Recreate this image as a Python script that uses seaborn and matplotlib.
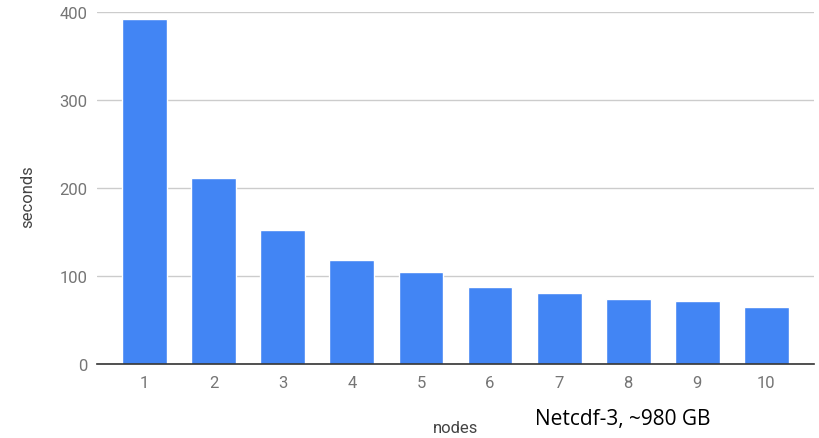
#!/usr/bin/env python3
import pandas as pd
import seaborn as sns
import matplotlib.pyplot as plt

nodes = ['1', '2', '3', '4', '5', '6', '7', '8', '9', '10']
seconds = [392, 211, 152, 118, 104, 88, 81, 74, 72, 65]
y_ticks = [0, 100, 200, 300, 400]

df = pd.DataFrame({'nodes': nodes, 'seconds': seconds})

sns.set_style('white')
plt.rcParams['font.family'] = ['Roboto', 'DejaVu Sans']

fig = plt.figure(figsize=(8.19, 4.39), dpi=100)
ax = fig.add_axes([97 / 819, 1 - 365 / 439, (814 - 97) / 819, (365 - 13) / 439])

sns.barplot(data=df, x='nodes', y='seconds', color='#4285F4', saturation=1,
            width=0.65, ax=ax, zorder=3)

ax.set_ylim(0, 400)
ax.set_xlim(-0.69, 9.69)
ax.set_yticks(y_ticks)
ax.yaxis.grid(True, color='#cccccc', linewidth=1, zorder=0)
ax.set_axisbelow(True)
sns.despine(ax=ax, left=True, top=True, right=True)
ax.spines['bottom'].set_color('#333333')
ax.spines['bottom'].set_linewidth(1.2)
ax.spines['bottom'].set_zorder(4)

ax.tick_params(axis='both', length=0, labelsize=12, colors='#757575')
ax.tick_params(axis='y', pad=7)
ax.tick_params(axis='x', pad=8)

ax.set_ylabel('seconds', fontsize=12, color='#444444')
ax.yaxis.set_label_coords((28 - 97) / 717, (365 - 197) / 352)
ax.set_xlabel('nodes', fontsize=12, color='#444444')
ax.xaxis.set_label_coords(0.5, (365 - 429) / 352)
ax.xaxis.label.set_va('center')
ax.yaxis.label.set_va('center')

fig.text(623 / 819, 1 - 420 / 439, 'Netcdf-3, ~980 GB', fontsize=15,
         family=['Open Sans', 'DejaVu Sans'], color='black', ha='center', va='center')

plt.savefig('out.png', dpi=100)
